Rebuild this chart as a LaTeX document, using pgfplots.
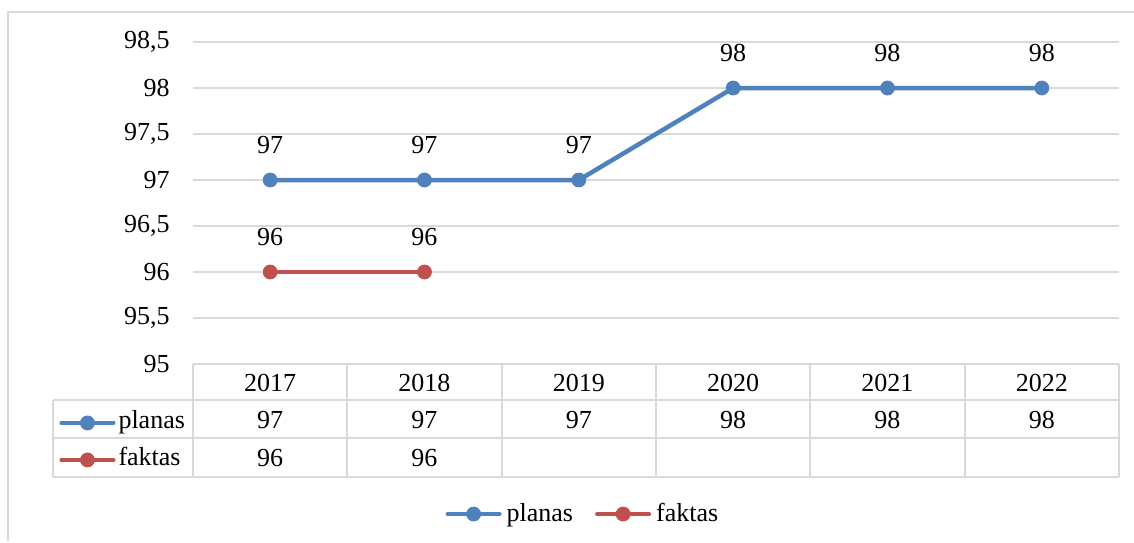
\documentclass[border=0pt]{standalone}
\usepackage{fontspec}
\setmainfont{Liberation Serif}
\usepackage{pgfplots}
\usepackage{pgfplotstable}
\pgfplotsset{compat=1.18}
\pgfkeys{/pgf/number format/.cd, use comma, assume math mode=true}

\definecolor{planasc}{HTML}{4F81BD}
\definecolor{faktasc}{HTML}{C0504D}
\definecolor{gridc}{HTML}{D9D9D9}

\pgfplotstableread{
x year planas
0 2017 97
1 2018 97
2 2019 97
3 2020 98
4 2021 98
5 2022 98
}\planastable
\pgfplotstableread{
x year faktas
0 2017 96
1 2018 96
}\faktastable

\pgfplotsset{
  series/.style={color=#1, line width=2.25bp, line cap=round, line join=round,
    mark=*, mark size=3.5bp, mark options={solid, line width=0.4bp}},
  keyimage/.style={legend image code/.code={%
    \draw[##1, mark repeat=2, mark phase=2] plot coordinates {(1.1bp,0bp) (14bp,0bp) (26.9bp,0bp)};}},
  frame/.style={at={(0,0)}, anchor=south west, scale only axis,
    width=463bp, height=161bp, xmin=-0.5, xmax=5.5, ymin=95, ymax=98.5},
}

\begin{document}
\fontsize{13bp}{15.6bp}\selectfont
\begin{tikzpicture}
  \path[use as bounding box] (-96.5bp,-89.5bp) rectangle (470.5bp,182bp);

  \begin{axis}[frame, keyimage, clip=false,
      xtick={0,...,5},
      xticklabels from table={\planastable}{year},
      ytick={95,95.5,96,96.5,97,97.5,98,98.5},
      ymajorgrids,
      major grid style={gridc, line width=0.75bp},
      axis line style={draw=none},
      major tick length=0pt,
      x tick label style={anchor=center, yshift=-9.5bp},
      y tick label style={anchor=east, inner sep=0pt, xshift=-11.5bp},
      legend style={at={(0.42,-0.466)}, anchor=center, draw=none, fill=none,
        inner sep=0pt, legend columns=2, cells={anchor=west}, nodes={inner sep=0pt},
        /tikz/every odd column/.style={column sep=2.5bp},
        /tikz/every even column/.style={column sep=11bp}},
    ]
    \addplot[series=planasc, nodes near coords,
      nodes near coords style={anchor=center, yshift=17.5bp, text=black}]
      table[x=x, y=planas]{\planastable};
    \addplot[series=faktasc, nodes near coords,
      nodes near coords style={anchor=center, yshift=17.5bp, text=black}]
      table[x=x, y=faktas]{\faktastable};
    \legend{planas, faktas}

    % data table rows
    \addplot[forget plot, draw=none, nodes near coords, point meta=explicit,
      nodes near coords style={anchor=center, text=black}]
      table[x=x, y expr=94.391, meta=planas]{\planastable};
    \addplot[forget plot, draw=none, nodes near coords, point meta=explicit,
      nodes near coords style={anchor=center, text=black}]
      table[x=x, y expr=93.978, meta=faktas]{\faktastable};
  \end{axis}

  % row headers of the data table
  \begin{axis}[frame, keyimage, hide axis,
      legend style={at={(-0.1447,-0.2405)}, anchor=west, draw=none, fill=none,
        inner sep=0pt, cells={anchor=west}, row sep=6.5bp,
        nodes={inner sep=0pt, text height=9bp, text depth=3bp},
        /tikz/every odd column/.style={column sep=1.5bp}},
    ]
    \addlegendimage{series=planasc}
    \addlegendentry{planas}
    \addlegendimage{series=faktasc}
    \addlegendentry{faktas}
  \end{axis}

  % table lines and chart frame, in pixel units of the reference
  \begin{scope}[x=0.5bp, y=-0.5bp, shift={(-96.5bp,182bp)}, gridc, line width=1bp]
    \draw (193,364) -- (1119,364);
    \foreach \yy in {400,438,477} \draw (53,\yy) -- (1119,\yy);
    \draw (53,400) -- (53,477);
    \foreach \xx in {193,347.33,501.67,656,810.33,964.67,1119} \draw (\xx,364) -- (\xx,477);
    \draw (8,541) -- (8,12) -- (1134,12);
  \end{scope}
\end{tikzpicture}
\end{document}
